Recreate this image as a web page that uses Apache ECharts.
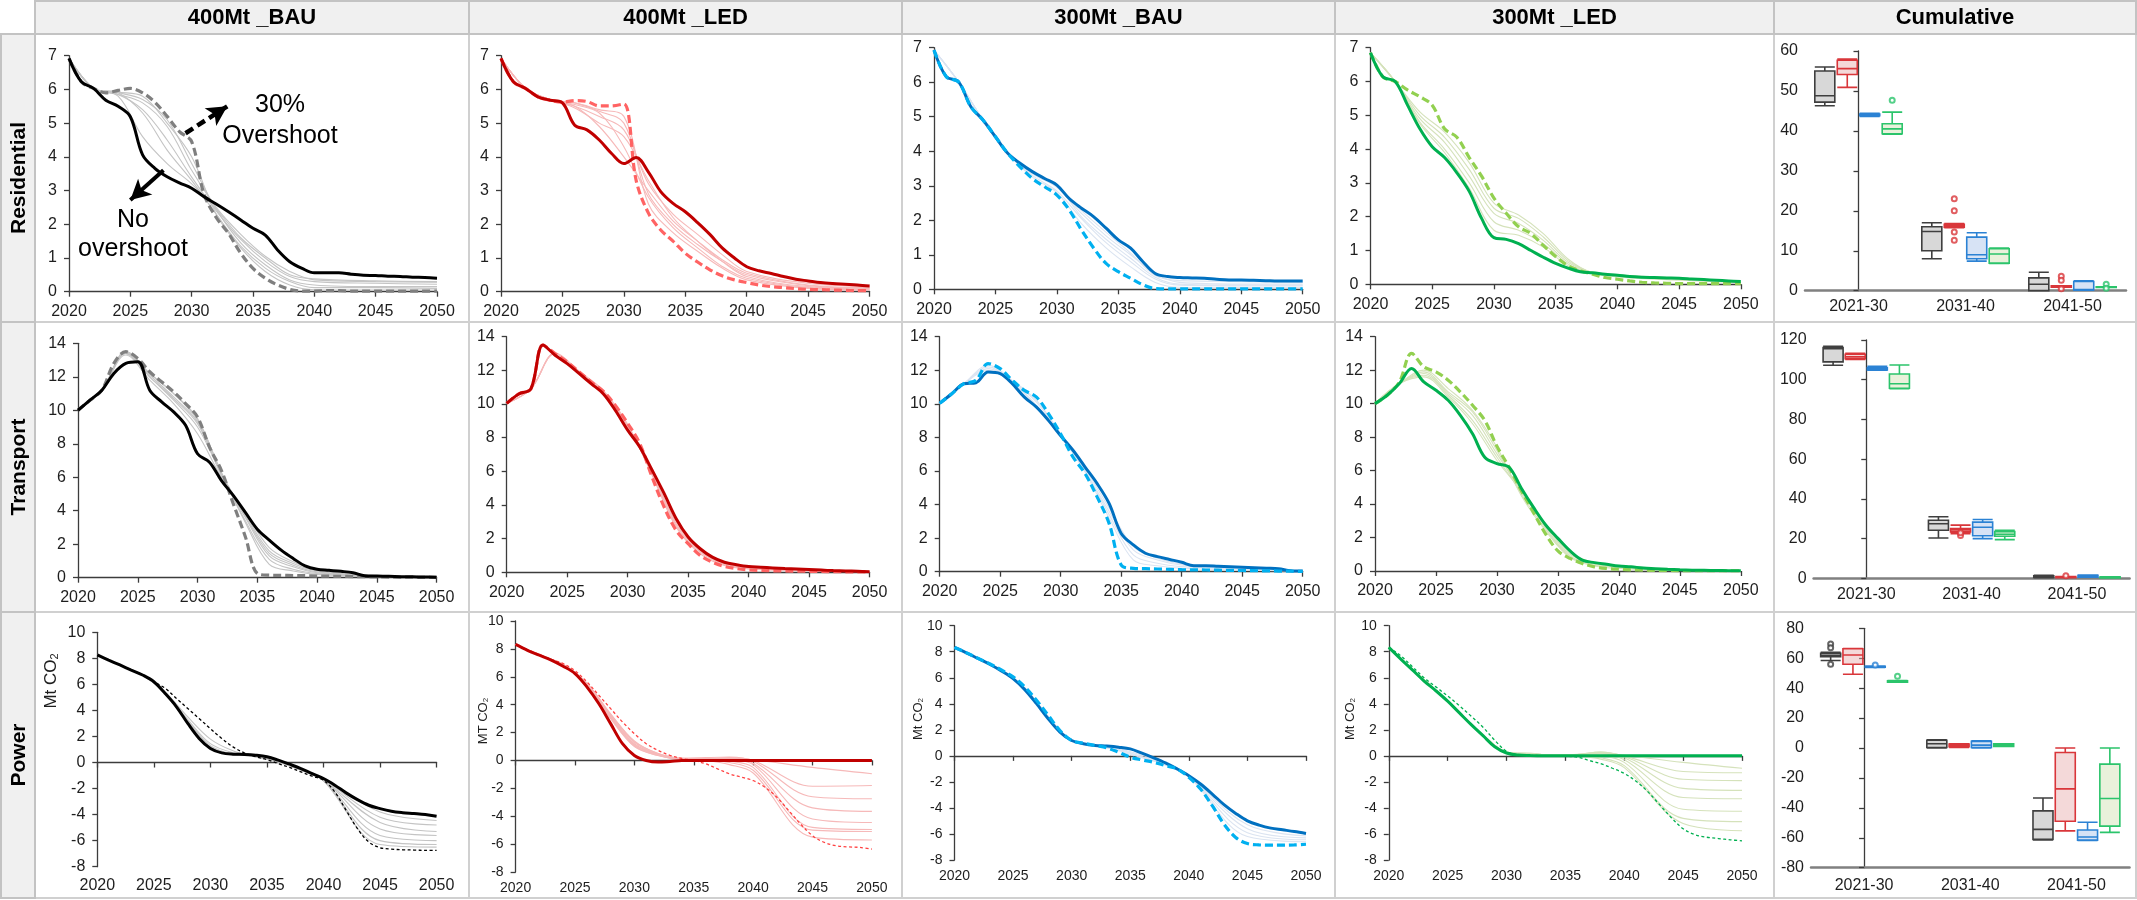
<!DOCTYPE html>
<html>
<head>
<meta charset="utf-8">
<script src="https://cdn.jsdelivr.net/npm/echarts@6/dist/echarts.min.js"></script>
<style>
  html, body { margin: 0; padding: 0; background: #ffffff; }
  #chart { width: 2137px; height: 900px; }
</style>
</head>
<body>
<div id="chart"></div>
<script>
// ---------------------------------------------------------------------------
// Emission pathways (Mt CO2) by sector and scenario, 2020-2050
// ---------------------------------------------------------------------------
const YEARS = [2020, 2021, 2022, 2023, 2024, 2025, 2026, 2027, 2028, 2029, 2030,
  2031, 2032, 2033, 2034, 2035, 2036, 2037, 2038, 2039, 2040,
  2041, 2042, 2043, 2044, 2045, 2046, 2047, 2048, 2049, 2050];
// intermediate (partial overshoot) pathways are stored at these years
const FAINT_YEARS = [2020, 2022, 2024, 2026, 2028, 2030, 2032, 2034, 2036, 2038, 2040, 2045, 2050];

const SCENARIOS = ['400Mt _BAU', '400Mt _LED', '300Mt _BAU', '300Mt _LED'];
const SECTORS = ['Residential', 'Transport', 'Power'];
const PERIODS = ['2021-30', '2031-40', '2041-50'];

// ---- Residential ----
const resBauSolid = [6.92, 6.23, 6.03, 5.68, 5.5, 5.19, 4.06, 3.66, 3.41, 3.23, 3.07, 2.82, 2.6, 2.37, 2.13, 1.88, 1.68, 1.24, 0.89, 0.69, 0.56, 0.56, 0.56, 0.52, 0.49, 0.48, 0.46, 0.45, 0.43, 0.42, 0.4];
const resBauDash = [6.92, 6.23, 6.03, 5.9, 5.97, 6.03, 5.9, 5.62, 5.2, 4.75, 4.45, 2.9, 2.2, 1.73, 1.14, 0.69, 0.4, 0.2, 0.07, 0.02, 0.02, 0.03, 0.03, 0.02, 0.02, 0.02, 0.02, 0.02, 0.02, 0.02, 0.02];
const resBauFaint = [
  [6.92, 6.03, 5.85, 5.6, 4.9, 3.6, 2.5, 1.7, 1.05, 0.6, 0.35, 0.3, 0.28],
  [6.92, 6.03, 5.85, 5.4, 4.5, 3.4, 2.4, 1.55, 0.9, 0.45, 0.3, 0.25, 0.22],
  [6.92, 6.03, 5.9, 5.7, 5.1, 3.8, 2.45, 1.45, 0.8, 0.35, 0.2, 0.15, 0.15],
  [6.92, 6.03, 5.9, 5.3, 4.2, 3.3, 2.3, 1.35, 0.7, 0.3, 0.12, 0.12, 0.1],
  [6.92, 6.03, 5.92, 5.8, 5.0, 4.0, 2.3, 1.3, 0.6, 0.2, 0.06, 0.05, 0.05],
  [6.92, 6.03, 5.8, 4.6, 3.8, 3.2, 2.45, 1.6, 1.0, 0.5, 0.38, 0.32, 0.3]
];
const resLedSolid = [6.92, 6.23, 6.03, 5.78, 5.68, 5.6, 4.94, 4.8, 4.5, 4.1, 3.8, 3.98, 3.55, 2.97, 2.62, 2.37, 2.05, 1.7, 1.3, 1.0, 0.74, 0.62, 0.54, 0.45, 0.37, 0.32, 0.27, 0.24, 0.22, 0.2, 0.17];
const resLedDash = [6.92, 6.23, 6.03, 5.78, 5.68, 5.62, 5.67, 5.64, 5.51, 5.51, 5.57, 3.3, 2.33, 1.83, 1.5, 1.14, 0.88, 0.65, 0.47, 0.35, 0.27, 0.2, 0.15, 0.12, 0.09, 0.07, 0.06, 0.05, 0.04, 0.03, 0.03];
const resLedFaint = [
  [6.92, 6.03, 5.7, 5.5, 5.2, 4.8, 3.2, 2.3, 1.7, 1.1, 0.6, 0.25, 0.15],
  [6.92, 6.03, 5.7, 5.6, 5.35, 5.0, 2.9, 2.0, 1.4, 0.9, 0.5, 0.18, 0.1],
  [6.92, 6.03, 5.7, 5.45, 5.0, 4.6, 3.3, 2.2, 1.5, 0.9, 0.45, 0.15, 0.08],
  [6.92, 6.03, 5.7, 5.55, 5.3, 4.3, 2.8, 1.9, 1.3, 0.75, 0.4, 0.12, 0.06],
  [6.92, 6.03, 5.7, 5.5, 4.9, 4.0, 3.0, 2.1, 1.5, 0.95, 0.55, 0.2, 0.12],
  [6.92, 6.03, 5.7, 5.6, 5.4, 5.2, 2.6, 1.75, 1.2, 0.7, 0.35, 0.1, 0.05]
];
const res300BauSolid = [6.93, 6.16, 6.01, 5.29, 4.9, 4.42, 3.94, 3.65, 3.41, 3.21, 3.02, 2.63, 2.35, 2.1, 1.77, 1.43, 1.19, 0.8, 0.46, 0.37, 0.34, 0.33, 0.32, 0.29, 0.27, 0.27, 0.26, 0.25, 0.24, 0.24, 0.24];
const res300BauDash = [6.93, 6.16, 6.01, 5.29, 4.9, 4.42, 3.94, 3.55, 3.21, 2.97, 2.73, 2.3, 1.72, 1.19, 0.75, 0.51, 0.32, 0.13, 0.02, 0.01, 0.01, 0.01, 0.01, 0.01, 0.01, 0.01, 0.01, 0.01, 0.01, 0.01, 0.01];
const res300BauFaint = [
  [6.93, 6.01, 4.9, 3.94, 3.35, 2.95, 2.2, 1.55, 1.0, 0.45, 0.2, 0.15, 0.15],
  [6.93, 6.01, 4.9, 3.94, 3.3, 2.85, 2.05, 1.35, 0.8, 0.3, 0.12, 0.1, 0.1],
  [6.93, 6.01, 4.9, 3.94, 3.38, 2.98, 2.28, 1.65, 1.05, 0.4, 0.25, 0.22, 0.2],
  [6.93, 6.01, 4.9, 3.94, 3.25, 2.8, 1.9, 1.2, 0.65, 0.2, 0.06, 0.05, 0.05],
  [6.93, 6.01, 4.9, 3.94, 3.4, 3.0, 2.1, 1.45, 0.9, 0.35, 0.15, 0.12, 0.12]
];
const res300LedSolid = [6.85, 6.14, 6.0, 5.3, 4.6, 4.07, 3.75, 3.3, 2.75, 1.95, 1.38, 1.33, 1.2, 1.0, 0.8, 0.62, 0.48, 0.37, 0.34, 0.3, 0.27, 0.23, 0.21, 0.2, 0.19, 0.18, 0.16, 0.14, 0.12, 0.1, 0.08];
const res300LedDash = [6.85, 6.14, 6.0, 5.75, 5.55, 5.3, 4.6, 4.35, 3.75, 3.2, 2.55, 2.1, 1.7, 1.5, 1.15, 0.82, 0.55, 0.4, 0.3, 0.2, 0.15, 0.1, 0.06, 0.04, 0.03, 0.02, 0.02, 0.02, 0.02, 0.02, 0.02];
const res300LedFaint = [
  [6.85, 6.0, 4.9, 4.2, 3.2, 2.1, 1.8, 1.3, 0.65, 0.35, 0.28, 0.18, 0.08],
  [6.85, 6.0, 5.0, 4.35, 3.4, 2.25, 1.95, 1.4, 0.7, 0.35, 0.25, 0.15, 0.06],
  [6.85, 6.0, 4.8, 4.0, 3.0, 1.85, 1.6, 1.2, 0.6, 0.33, 0.26, 0.17, 0.07],
  [6.85, 6.0, 5.1, 4.5, 3.6, 2.4, 2.05, 1.5, 0.75, 0.33, 0.22, 0.12, 0.05],
  [6.85, 6.0, 4.75, 3.9, 2.85, 1.6, 1.45, 1.1, 0.55, 0.32, 0.25, 0.15, 0.06]
];

// ---- Transport ----
const trBauSolid = [10.0, 10.6, 11.2, 12.2, 12.8, 12.9, 11.2, 10.5, 9.9, 9.1, 7.4, 6.9, 5.8, 4.9, 3.9, 2.9, 2.25, 1.65, 1.15, 0.7, 0.5, 0.44, 0.38, 0.3, 0.12, 0.1, 0.08, 0.06, 0.05, 0.04, 0.03];
const trBauDash = [10.0, 10.6, 11.2, 12.8, 13.5, 13.1, 12.3, 11.7, 11.1, 10.4, 9.6, 7.8, 6.4, 4.4, 2.45, 0.25, 0.15, 0.14, 0.13, 0.12, 0.1, 0.09, 0.08, 0.07, 0.06, 0.05, 0.04, 0.03, 0.03, 0.02, 0.02];
const trBauFaint = [
  [10.0, 11.2, 13.4, 12.0, 10.6, 9.0, 6.2, 3.8, 1.6, 0.85, 0.4, 0.1, 0.02],
  [10.0, 11.2, 13.4, 12.1, 10.8, 9.3, 6.1, 3.6, 1.3, 0.65, 0.3, 0.08, 0.02],
  [10.0, 11.2, 13.5, 12.2, 11.0, 9.5, 6.2, 3.4, 1.1, 0.5, 0.25, 0.06, 0.02],
  [10.0, 11.2, 13.3, 11.8, 10.4, 8.6, 6.0, 3.9, 1.8, 0.95, 0.45, 0.12, 0.03],
  [10.0, 11.2, 13.5, 12.2, 11.0, 9.4, 6.3, 3.3, 0.8, 0.4, 0.2, 0.05, 0.02],
  [10.0, 11.2, 13.4, 12.0, 10.7, 9.2, 6.2, 3.7, 1.45, 0.75, 0.35, 0.09, 0.02]
];
const trLedSolid = [10.04, 10.6, 10.9, 13.5, 12.9, 12.4, 11.8, 11.2, 10.6, 9.6, 8.45, 7.45, 6.1, 4.7, 3.2, 2.1, 1.4, 0.9, 0.6, 0.45, 0.34, 0.3, 0.26, 0.22, 0.19, 0.16, 0.13, 0.1, 0.08, 0.06, 0.04];
const trLedDash = [10.04, 10.6, 10.9, 13.5, 13.0, 12.5, 11.9, 11.3, 10.75, 9.9, 8.85, 7.65, 5.7, 3.9, 2.5, 1.7, 1.0, 0.6, 0.35, 0.22, 0.14, 0.11, 0.09, 0.08, 0.07, 0.06, 0.05, 0.04, 0.03, 0.02, 0.02];
const trLedFaint = [
  [10.04, 10.9, 13.0, 11.9, 10.7, 8.7, 5.9, 2.8, 1.2, 0.45, 0.22, 0.1, 0.03],
  [10.04, 10.9, 13.0, 11.85, 10.65, 8.6, 6.0, 3.0, 1.3, 0.5, 0.25, 0.12, 0.03],
  [10.04, 10.9, 13.05, 11.95, 10.8, 8.8, 5.8, 2.7, 1.1, 0.4, 0.2, 0.08, 0.02],
  [10.04, 10.9, 13.0, 11.9, 10.75, 8.65, 5.95, 2.9, 1.25, 0.48, 0.24, 0.11, 0.03]
];
const tr300BauSolid = [10.03, 10.6, 11.2, 11.26, 11.9, 11.8, 11.2, 10.4, 9.8, 9.0, 8.1, 7.25, 6.25, 5.26, 4.07, 2.28, 1.6, 1.1, 0.9, 0.73, 0.56, 0.36, 0.36, 0.33, 0.3, 0.27, 0.24, 0.21, 0.18, 0.06, 0.04];
const tr300BauDash = [10.03, 10.6, 11.2, 11.4, 12.4, 12.1, 11.4, 10.8, 10.4, 9.4, 8.2, 6.85, 5.86, 4.47, 2.88, 0.4, 0.2, 0.18, 0.16, 0.14, 0.12, 0.11, 0.1, 0.09, 0.08, 0.07, 0.06, 0.05, 0.04, 0.03, 0.02];
const tr300BauFaint = [
  [10.03, 11.2, 12.1, 11.3, 9.9, 8.1, 6.0, 3.6, 1.3, 0.7, 0.4, 0.2, 0.03],
  [10.03, 11.2, 12.2, 11.35, 10.1, 8.15, 6.05, 3.4, 1.0, 0.5, 0.3, 0.15, 0.03],
  [10.03, 11.2, 12.0, 11.25, 9.85, 8.1, 6.15, 3.8, 1.5, 0.8, 0.45, 0.22, 0.04],
  [10.03, 11.2, 12.3, 11.4, 10.2, 8.2, 5.95, 3.2, 0.7, 0.35, 0.2, 0.1, 0.03]
];
const tr300LedSolid = [10.0, 10.5, 11.2, 12.1, 11.3, 10.8, 10.2, 9.3, 8.2, 6.8, 6.42, 6.2, 4.95, 3.8, 2.75, 1.95, 1.2, 0.65, 0.5, 0.4, 0.3, 0.25, 0.18, 0.14, 0.1, 0.07, 0.05, 0.04, 0.03, 0.02, 0.01];
const tr300LedDash = [10.0, 10.5, 11.3, 13.0, 12.2, 11.9, 11.4, 10.7, 9.9, 9.0, 7.45, 6.2, 4.8, 3.5, 2.2, 1.2, 0.75, 0.45, 0.25, 0.15, 0.1, 0.07, 0.05, 0.03, 0.02, 0.01, 0.01, 0.01, 0.01, 0.01, 0.01];
const tr300LedFaint = [
  [10.0, 11.2, 11.8, 10.6, 9.3, 7.0, 4.8, 2.6, 0.9, 0.4, 0.22, 0.05, 0.01],
  [10.0, 11.2, 11.7, 10.5, 9.0, 6.8, 4.7, 2.7, 1.0, 0.45, 0.25, 0.06, 0.01],
  [10.0, 11.2, 11.9, 10.7, 9.5, 7.2, 4.6, 2.5, 0.85, 0.35, 0.2, 0.04, 0.01],
  [10.0, 11.2, 11.6, 10.4, 8.8, 6.6, 4.8, 2.8, 1.1, 0.5, 0.26, 0.06, 0.01],
  [10.0, 11.2, 12.0, 10.9, 9.6, 7.4, 4.5, 2.4, 0.8, 0.3, 0.15, 0.03, 0.01]
];

// ---- Power ----
const pwBauSolid = [8.26, 7.87, 7.49, 7.1, 6.72, 6.2, 5.3, 4.28, 3.0, 1.85, 1.08, 0.74, 0.64, 0.62, 0.56, 0.44, 0.18, -0.13, -0.46, -0.85, -1.23, -1.74, -2.33, -2.85, -3.28, -3.54, -3.74, -3.85, -3.92, -4.0, -4.13];
const pwBauDash = [8.26, 7.87, 7.49, 7.1, 6.72, 6.2, 5.7, 4.92, 4.15, 3.38, 2.6, 1.85, 1.2, 0.74, 0.44, 0.23, -0.08, -0.38, -0.72, -1.05, -1.36, -2.26, -3.67, -5.08, -6.1, -6.54, -6.65, -6.7, -6.72, -6.75, -6.74];
const pwBauFaint = [
  [8.26, 7.49, 6.72, 5.35, 3.1, 1.2, 0.6, 0.5, 0.12, -0.5, -1.25, -3.8, -4.45],
  [8.26, 7.49, 6.72, 5.4, 3.3, 1.45, 0.75, 0.45, 0.08, -0.55, -1.3, -4.2, -4.8],
  [8.26, 7.49, 6.72, 5.4, 3.5, 1.8, 0.9, 0.42, 0.02, -0.6, -1.35, -4.6, -5.3],
  [8.26, 7.49, 6.72, 5.35, 3.2, 1.3, 0.65, 0.48, 0.1, -0.52, -1.3, -5.1, -5.6],
  [8.26, 7.49, 6.72, 5.35, 3.1, 1.15, 0.62, 0.5, 0.12, -0.5, -1.35, -5.6, -6.0],
  [8.26, 7.49, 6.72, 5.3, 3.05, 1.1, 0.62, 0.52, 0.14, -0.5, -1.4, -6.0, -6.3],
  [8.26, 7.49, 6.72, 5.3, 3.05, 1.1, 0.63, 0.52, 0.14, -0.5, -1.4, -6.3, -6.5]
];
const pwLedSolid = [8.32, 7.9, 7.55, 7.2, 6.76, 6.23, 5.28, 4.08, 2.64, 1.2, 0.36, 0.0, -0.12, -0.07, 0.0, 0, 0, 0, 0, 0, 0, 0, 0, 0, 0, 0, 0, 0, 0, 0, 0];
const pwLedDash = [8.32, 7.95, 7.6, 7.25, 6.95, 6.43, 5.64, 4.68, 3.72, 2.76, 1.92, 1.2, 0.72, 0.36, 0.14, 0.0, -0.24, -0.6, -0.96, -1.2, -1.44, -1.92, -2.64, -3.6, -4.56, -5.4, -5.88, -6.12, -6.2, -6.24, -6.36];
const pwLedFaint = [
  [8.32, 7.55, 6.8, 5.4, 3.0, 1.0, 0.35, 0.1, 0.1, 0.15, 0.05, -0.5, -0.95],
  [8.32, 7.55, 6.85, 5.5, 3.2, 1.2, 0.45, 0.15, 0.15, 0.2, 0.0, -1.85, -1.8],
  [8.32, 7.55, 6.85, 5.45, 3.1, 1.1, 0.4, 0.12, 0.2, 0.25, -0.05, -2.6, -2.75],
  [8.32, 7.55, 6.9, 5.55, 3.35, 1.4, 0.5, 0.15, 0.15, 0.1, -0.2, -3.4, -3.65],
  [8.32, 7.55, 6.85, 5.45, 3.05, 1.05, 0.35, 0.1, 0.1, 0.05, -0.3, -4.2, -4.45],
  [8.32, 7.55, 6.9, 5.5, 3.25, 1.3, 0.45, 0.12, 0.05, -0.05, -0.5, -4.8, -4.95],
  [8.32, 7.55, 6.85, 5.45, 3.15, 1.15, 0.4, 0.1, 0.02, -0.15, -0.7, -5.0, -5.1],
  [8.32, 7.55, 6.9, 5.55, 3.3, 1.35, 0.5, 0.15, 0.0, -0.3, -0.9, -5.5, -5.7]
];
const pw300BauSolid = [8.33, 7.92, 7.48, 7.04, 6.53, 5.94, 5.09, 4.01, 2.85, 1.83, 1.18, 0.93, 0.8, 0.75, 0.67, 0.54, 0.21, -0.15, -0.54, -1.0, -1.52, -2.16, -2.93, -3.75, -4.42, -4.99, -5.32, -5.55, -5.68, -5.81, -5.96];
const pw300BauDash = [8.33, 7.93, 7.5, 7.08, 6.6, 6.07, 5.3, 4.27, 3.11, 1.95, 1.18, 0.98, 0.8, 0.62, 0.28, -0.1, -0.31, -0.49, -0.75, -1.0, -1.65, -2.55, -3.83, -5.24, -6.27, -6.74, -6.84, -6.86, -6.86, -6.84, -6.79];
const pw300BauFaint = [
  [8.33, 7.48, 6.55, 5.15, 2.95, 1.18, 0.8, 0.55, 0.05, -0.6, -1.55, -5.3, -6.15],
  [8.33, 7.48, 6.55, 5.2, 3.0, 1.18, 0.8, 0.5, -0.05, -0.65, -1.6, -5.6, -6.3],
  [8.33, 7.48, 6.55, 5.2, 3.0, 1.18, 0.8, 0.45, -0.1, -0.7, -1.6, -5.9, -6.45],
  [8.33, 7.48, 6.57, 5.25, 3.05, 1.18, 0.8, 0.4, -0.15, -0.7, -1.62, -6.2, -6.6]
];
const pw300LedSolid = [8.33, 7.45, 6.6, 5.75, 5.0, 4.2, 3.3, 2.4, 1.55, 0.7, 0.22, 0.06, 0.02, 0, 0, 0, 0, 0, 0, 0, 0, 0, 0, 0, 0, 0, 0, 0, 0, 0, 0];
const pw300LedDash = [8.33, 7.7, 6.85, 6.0, 5.3, 4.6, 3.85, 3.05, 2.2, 1.2, 0.35, 0.1, 0.04, 0.02, 0.0, -0.02, -0.1, -0.35, -0.6, -0.95, -1.35, -1.95, -2.75, -3.75, -4.75, -5.6, -6.05, -6.25, -6.35, -6.45, -6.53];
const pw300LedFaint = [
  [8.33, 6.65, 5.05, 3.35, 1.6, 0.3, 0.15, 0.05, 0.1, 0.25, 0.05, -0.5, -0.95],
  [8.33, 6.65, 5.05, 3.35, 1.6, 0.28, 0.2, 0.05, 0.1, 0.3, 0.0, -1.2, -1.3],
  [8.33, 6.65, 5.05, 3.35, 1.6, 0.28, 0.15, 0.05, 0.12, 0.3, -0.05, -1.8, -1.9],
  [8.33, 6.65, 5.05, 3.35, 1.6, 0.28, 0.2, 0.05, 0.1, 0.2, -0.15, -2.5, -2.65],
  [8.33, 6.65, 5.05, 3.35, 1.6, 0.28, 0.15, 0.05, 0.08, 0.15, -0.3, -3.2, -3.3],
  [8.33, 6.65, 5.05, 3.35, 1.6, 0.28, 0.15, 0.05, 0.05, 0.0, -0.5, -4.1, -4.25],
  [8.33, 6.65, 5.05, 3.35, 1.6, 0.28, 0.15, 0.05, 0.02, -0.15, -0.75, -4.8, -5.05],
  [8.33, 6.65, 5.05, 3.35, 1.6, 0.28, 0.15, 0.05, 0.0, -0.25, -0.9, -5.2, -5.75]
];

// ---- Cumulative emissions per decade: [min, Q1, median, Q3, max] ----
const resBox400Bau = [[46.3, 47.2, 48.8, 55.0, 56.0], [8.0, 10.0, 14.8, 16.0, 17.0], [0.0, 0.0, 1.6, 3.2, 4.6]];
const resBox400Led = [[50.9, 54.1, 55.6, 57.7, 58.0], [15.8, 15.9, 16.3, 16.6, 16.8], [0.9, 0.9, 1.1, 1.2, 1.2]];
const resBox300Bau = [[43.6, 43.8, 44.0, 44.2, 44.4], [7.4, 8.0, 9.0, 13.4, 14.5], [0.1, 0.2, 0.3, 2.3, 2.5]];
const resBox300Led = [[39.2, 39.3, 40.5, 41.8, 44.7], [6.8, 6.9, 9.2, 10.5, 10.7], [0.8, 0.8, 0.9, 1.0, 1.0]];
const resOut400Led = [[1, 23.0], [1, 20.0], [1, 14.7], [1, 12.6], [2, 3.6], [2, 2.6], [2, 0.5]];
const resOut300Led = [[0, 47.7], [2, 1.6], [2, 0.6]];

const trBox400Bau = [[107.3, 109.0, 115.6, 116.2, 116.8], [20.3, 24.2, 27.5, 29.2, 31.0], [0.3, 0.4, 0.8, 1.3, 1.5]];
const trBox400Led = [[110.2, 110.6, 111.6, 112.8, 113.3], [22.5, 23.4, 24.3, 25.1, 26.8], [0.3, 0.3, 0.5, 0.9, 0.9]];
const trBox300Bau = [[104.8, 104.9, 105.4, 106.0, 106.8], [20.0, 21.4, 25.7, 28.3, 29.6], [0.5, 0.6, 1.0, 1.5, 1.6]];
const trBox300Led = [[95.5, 95.7, 98.0, 102.9, 107.4], [19.5, 21.2, 22.2, 23.5, 24.2], [0.2, 0.2, 0.5, 0.8, 0.8]];
const trOut400Led = [[1, 21.5], [1, 22.9], [2, 1.3]];

const pwBox400Bau = [[58.5, 61.0, 62.0, 63.3, 64.0], [0.0, 0.3, 2.8, 5.2, 5.5], [-61.5, -61.1, -54.4, -42.0, -33.4]];
const pwBox400Led = [[49.3, 56.0, 62.2, 66.3, 66.4], [0.3, 0.9, 1.7, 2.7, 2.8], [-55.4, -49.0, -27.3, -3.0, 0.0]];
const pwBox300Bau = [[53.9, 54.0, 54.3, 54.6, 54.7], [0.1, 0.3, 1.9, 4.4, 4.8], [-61.8, -61.6, -59.5, -54.8, -49.6]];
const pwBox300Led = [[43.9, 44.0, 44.4, 44.9, 45.0], [1.0, 1.0, 1.8, 2.8, 2.8], [-56.4, -52.2, -33.8, -10.8, 0.0]];
const pwOut400Bau = [[0, 69.5], [0, 67.0], [0, 56.0]];
const pwOut300Bau = [[0, 55.5]];
const pwOut300Led = [[0, 48.0]];

// ---------------------------------------------------------------------------
const FONT = "'Liberation Sans', Arial, Helvetica, sans-serif";
const AXIS = '#3c3c3c';
const TEXT = '#1e1e1e';

const PAL = {
  gray:  { solid: '#000000', dash: '#7f7f7f', faint: '#c4c4c4' },
  red:   { solid: '#c00000', dash: '#ff6363', faint: '#f6b9b9' },
  blue:  { solid: '#0070c0', dash: '#00b0f0', faint: '#dbe4f1' },
  green: { solid: '#00b050', dash: '#92d050', faint: '#d5e2bb' }
};
const BOX_PAL = {
  gray:  { border: '#3f3f3f', fill: 'rgba(190,190,190,0.6)' },
  red:   { border: '#d9363a', fill: 'rgba(230,170,170,0.45)' },
  blue:  { border: '#2b82d4', fill: 'rgba(175,200,235,0.5)' },
  green: { border: '#2bc46b', fill: 'rgba(215,230,190,0.55)' }
};

function pairs(xs, ys) { return xs.map((x, i) => [x, ys[i]]); }
const yearFmt = v => String(v);

// panel layout: [left, top, width, height] of each plot area
const LINE_PANELS = [
  { grid: [69, 55.7, 368, 236], y: [0, 7, 1], pal: 'gray', solid: resBauSolid, dash: resBauDash, faint: resBauFaint, arrows: true },
  { grid: [501, 55.7, 368.6, 236], y: [0, 7, 1], pal: 'red', solid: resLedSolid, dash: resLedDash, faint: resLedFaint },
  { grid: [934, 47.7, 368.7, 241.6], y: [0, 7, 1], pal: 'blue', solid: res300BauSolid, dash: res300BauDash, faint: res300BauFaint, dashOnTop: true },
  { grid: [1370.5, 47.7, 370.3, 236.6], y: [0, 7, 1], pal: 'green', solid: res300LedSolid, dash: res300LedDash, faint: res300LedFaint },

  { grid: [78, 343.3, 358.6, 234.4], y: [0, 14, 2], pal: 'gray', solid: trBauSolid, dash: trBauDash, faint: trBauFaint },
  { grid: [506.7, 336.7, 362.9, 235.6], y: [0, 14, 2], pal: 'red', solid: trLedSolid, dash: trLedDash, faint: trLedFaint },
  { grid: [939.7, 336.7, 363, 235], y: [0, 14, 2], pal: 'blue', solid: tr300BauSolid, dash: tr300BauDash, faint: tr300BauFaint, dashOnTop: true },
  { grid: [1375, 336.7, 365.8, 234.3], y: [0, 14, 2], pal: 'green', solid: tr300LedSolid, dash: tr300LedDash, faint: tr300LedFaint },

  { grid: [97.3, 632.3, 339.3, 234.4], y: [-8, 10, 2], pal: 'gray', solid: pwBauSolid, dash: pwBauDash, faint: pwBauFaint, power: true, thinDash: '#000000', fs: 16, gap: 11 },
  { grid: [515.6, 621, 356.3, 251], y: [-8, 10, 2], pal: 'red', solid: pwLedSolid, dash: pwLedDash, faint: pwLedFaint, power: true, thinDash: '#ff4040', fs: 14, gap: 9 },
  { grid: [954.5, 625.7, 351.5, 234.3], y: [-8, 10, 2], pal: 'blue', solid: pw300BauSolid, dash: pw300BauDash, faint: pw300BauFaint, power: true, dashOnTop: true, fs: 14, gap: 9 },
  { grid: [1388.8, 625.7, 353.2, 234.3], y: [-8, 10, 2], pal: 'green', solid: pw300LedSolid, dash: pw300LedDash, faint: pw300LedFaint, power: true, thinDash: '#00b050', fs: 14, gap: 9 }
];

const BOX_PANELS = [
  { grid: [1805, 51, 321, 239.7], y: [0, 60, 10], boxes: [resBox400Bau, resBox400Led, resBox300Bau, resBox300Led], outliers: [[], resOut400Led, [], resOut300Led], gap: 8 },
  { grid: [1813.6, 340, 316, 238.3], y: [0, 120, 20], boxes: [trBox400Bau, trBox400Led, trBox300Bau, trBox300Led], outliers: [[], trOut400Led, [], []], gap: 8 },
  { grid: [1811, 628.3, 318.5, 239.4], y: [-80, 80, 20], boxes: [pwBox400Bau, pwBox400Led, pwBox300Bau, pwBox300Led], outliers: [pwOut400Bau, [], pwOut300Bau, pwOut300Led], gap: 10 }
];
const BOX_ORDER = ['gray', 'red', 'blue', 'green'];

const grids = [], xAxes = [], yAxes = [], series = [];

function lineSeries(xi, yi, data, style, z) {
  return {
    type: 'line', xAxisIndex: xi, yAxisIndex: yi, data: data,
    showSymbol: false, symbol: 'none', smooth: 0.35, silent: true, animation: false,
    lineStyle: style, z: z
  };
}

LINE_PANELS.forEach(p => {
  const gi = grids.length;
  const fs = p.fs || 16;
  grids.push({ left: p.grid[0], top: p.grid[1], width: p.grid[2], height: p.grid[3], outerBoundsMode: 'none' });
  const xi = xAxes.length;
  xAxes.push({
    type: 'value', gridIndex: gi, min: 2020, max: 2050, interval: 5, position: 'bottom',
    axisLine: { show: true, onZero: !!p.power, lineStyle: { color: AXIS, width: 1.3 } },
    axisTick: { show: true, length: 5, lineStyle: { color: AXIS, width: 1.3 } },
    axisLabel: { show: !p.power, fontSize: fs, color: TEXT, margin: 12, fontFamily: FONT, formatter: yearFmt },
    splitLine: { show: false }
  });
  if (p.power) {
    // year labels sit below the plot while the axis line runs along zero
    xAxes.push({
      type: 'value', gridIndex: gi, min: 2020, max: 2050, interval: 5, position: 'bottom',
      axisLine: { show: false, onZero: false }, axisTick: { show: false },
      axisLabel: { show: true, fontSize: fs, color: TEXT, margin: p.gap, fontFamily: FONT, formatter: yearFmt },
      splitLine: { show: false }
    });
  }
  const yi = yAxes.length;
  yAxes.push({
    type: 'value', gridIndex: gi, min: p.y[0], max: p.y[1], interval: p.y[2],
    axisLine: { show: true, lineStyle: { color: AXIS, width: 1.3 } },
    axisTick: { show: true, length: 5, lineStyle: { color: AXIS, width: 1.3 } },
    axisLabel: { fontSize: fs, color: TEXT, margin: 12, fontFamily: FONT },
    splitLine: { show: false }
  });
  const pal = PAL[p.pal];
  p.faint.forEach(f => series.push(lineSeries(xi, yi, pairs(FAINT_YEARS, f), { color: pal.faint, width: 1.1 }, 2)));
  const dashStyle = p.thinDash
    ? { color: p.thinDash, width: 1.3, type: [3, 2.5] }
    : { color: pal.dash, width: 3.2, type: [8, 4] };
  const solidS = lineSeries(xi, yi, pairs(YEARS, p.solid), { color: pal.solid, width: 3 }, 3);
  const dashS = lineSeries(xi, yi, pairs(YEARS, p.dash), dashStyle, 3);
  if (p.arrows) {
    solidS.markLine = {
      silent: true, animation: false, symbol: ['none', 'arrow'], symbolSize: [16, 20],
      label: { show: false },
      lineStyle: { color: '#000000', width: 4, type: 'solid' },
      emphasis: { disabled: true },
      data: [
        [{ coord: [2029.5, 4.7], lineStyle: { color: '#000000', width: 4.5, type: [9, 5] } }, { coord: [2032.9, 5.5] }],
        [{ coord: [2027.7, 3.6], lineStyle: { color: '#000000', width: 4, type: 'solid' } }, { coord: [2025.0, 2.72] }]
      ]
    };
  }
  if (p.dashOnTop) { series.push(solidS, dashS); } else { series.push(dashS, solidS); }
});

function slotOffset(i, bandWidth) {
  // mirrors the side-by-side placement of boxplot series within one category
  const avail = bandWidth * 0.8 - 2;
  const gap = avail / 4 * 0.3;
  const bw = (avail - gap * 3) / 4;
  return (bw / 2 - avail / 2 + i * (gap + bw)) / bandWidth;
}

BOX_PANELS.forEach(p => {
  const gi = grids.length;
  grids.push({ left: p.grid[0], top: p.grid[1], width: p.grid[2], height: p.grid[3], outerBoundsMode: 'none' });
  const xi = xAxes.length;
  xAxes.push({
    type: 'category', gridIndex: gi, data: PERIODS, position: 'bottom',
    axisLine: { show: true, onZero: false, lineStyle: { color: '#808080', width: 2.5 } },
    axisTick: { show: false },
    axisLabel: { fontSize: 16, color: TEXT, margin: p.gap, fontFamily: FONT },
    splitLine: { show: false }
  });
  const xv = xAxes.length;
  xAxes.push({ type: 'value', gridIndex: gi, min: -0.5, max: 2.5, show: false, position: 'bottom', axisLine: { onZero: false } });
  const yi = yAxes.length;
  yAxes.push({
    type: 'value', gridIndex: gi, min: p.y[0], max: p.y[1], interval: p.y[2],
    axisLine: { show: true, lineStyle: { color: AXIS, width: 1.3 } },
    axisTick: { show: true, length: 5, lineStyle: { color: AXIS, width: 1.3 } },
    axisLabel: { fontSize: 16, color: TEXT, margin: 7, fontFamily: FONT },
    splitLine: { show: false }
  });
  const band = p.grid[2] / PERIODS.length;
  p.boxes.forEach((b, i) => {
    const c = BOX_PAL[BOX_ORDER[i]];
    series.push({
      type: 'boxplot', xAxisIndex: xi, yAxisIndex: yi, data: b, boxWidth: [20, 20],
      silent: true, animation: false,
      itemStyle: { color: c.fill, borderColor: c.border, borderWidth: 1.6 }
    });
  });
  p.outliers.forEach((o, i) => {
    if (!o.length) return;
    const c = BOX_PAL[BOX_ORDER[i]];
    const off = slotOffset(i, band);
    series.push({
      type: 'scatter', xAxisIndex: xv, yAxisIndex: yi, silent: true, animation: false,
      data: o.map(d => [d[0] + off, d[1]]),
      symbol: 'emptyCircle', symbolSize: 5,
      itemStyle: { color: c.border, borderColor: c.border, borderWidth: 1.4 }
    });
  });
});

// ---- frame: header cells, sector cells, panel borders, annotations ----
const COL_X = [35, 469, 902, 1335, 1774, 2136];
const ROW_Y = [34, 322, 612, 898];
const HEADERS = SCENARIOS.concat(['Cumulative']);
const graphics = [];

for (let r = 0; r < 3; r++) {
  for (let c = 0; c < 5; c++) {
    graphics.push({ type: 'rect', silent: true, z: -10,
      shape: { x: COL_X[c], y: ROW_Y[r], width: COL_X[c + 1] - COL_X[c], height: ROW_Y[r + 1] - ROW_Y[r] },
      style: { fill: 'none', stroke: '#d0d0d0', lineWidth: 2 } });
  }
}
HEADERS.forEach((h, c) => {
  graphics.push({ type: 'rect', silent: true, z: 1,
    shape: { x: COL_X[c], y: 1, width: COL_X[c + 1] - COL_X[c], height: ROW_Y[0] - 1 },
    style: { fill: '#f0f0f0', stroke: '#c3c3c3', lineWidth: 2 } });
  graphics.push({ type: 'text', silent: true, z: 2,
    x: (COL_X[c] + COL_X[c + 1]) / 2, y: 18,
    style: { text: h, fill: '#000', font: 'bold 22px ' + FONT, align: 'center', verticalAlign: 'middle' } });
});
SECTORS.forEach((s, r) => {
  graphics.push({ type: 'rect', silent: true, z: 1,
    shape: { x: 1, y: ROW_Y[r], width: COL_X[0] - 1, height: ROW_Y[r + 1] - ROW_Y[r] },
    style: { fill: '#f0f0f0', stroke: '#c3c3c3', lineWidth: 2 } });
  graphics.push({ type: 'text', silent: true, z: 2, rotation: Math.PI / 2,
    x: 19, y: (ROW_Y[r] + ROW_Y[r + 1]) / 2,
    style: { text: s, fill: '#000', font: 'bold 21px ' + FONT, align: 'center', verticalAlign: 'middle' } });
});

// Mt CO2 axis names of the power row
[
  { x: 51, y: 681, label: 'Mt CO', size: 17 },
  { x: 483, y: 721, label: 'MT CO', size: 13 },
  { x: 918, y: 719, label: 'Mt CO', size: 13 },
  { x: 1350, y: 719, label: 'Mt CO', size: 13 }
].forEach(t => {
  graphics.push({ type: 'text', silent: true, z: 5, rotation: Math.PI / 2, x: t.x, y: t.y,
    style: {
      text: '{a|' + t.label + '}{b|2}', align: 'center', verticalAlign: 'middle',
      rich: {
        a: { fontSize: t.size, fontFamily: FONT, fill: TEXT, lineHeight: t.size + 4 },
        b: { fontSize: Math.round(t.size * 0.65), fontFamily: FONT, fill: TEXT, lineHeight: t.size + 4, padding: [Math.round(t.size * 0.45), 0, 0, 0] }
      }
    } });
});

// overshoot annotation
graphics.push({ type: 'text', silent: true, z: 5, x: 280, y: 121,
  style: { text: '30%\nOvershoot', font: '25px ' + FONT, fill: '#000', align: 'center', verticalAlign: 'middle', lineHeight: 31 } });
graphics.push({ type: 'text', silent: true, z: 5, x: 133, y: 235,
  style: { text: 'No\novershoot', font: '25px ' + FONT, fill: '#000', align: 'center', verticalAlign: 'middle', lineHeight: 29 } });

const chart = echarts.init(document.getElementById('chart'), null, { renderer: 'canvas' });
chart.setOption({
  animation: false,
  backgroundColor: '#ffffff',
  textStyle: { fontFamily: FONT },
  grid: grids,
  xAxis: xAxes,
  yAxis: yAxes,
  series: series,
  graphic: { elements: graphics }
});
</script>
</body>
</html>
